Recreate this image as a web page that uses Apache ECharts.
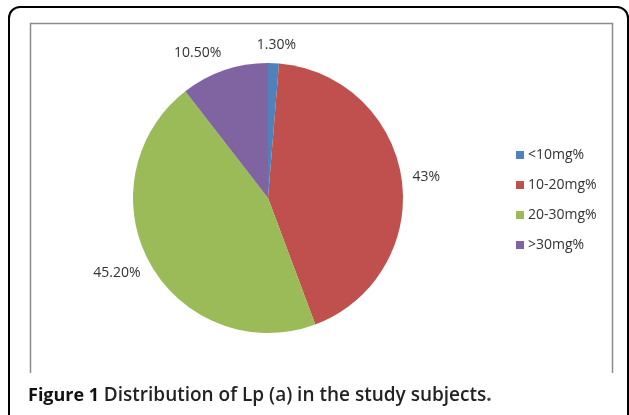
<!DOCTYPE html>
<html>
<head>
<meta charset="utf-8">
<script src="https://cdn.jsdelivr.net/npm/echarts@6/dist/echarts.min.js"></script>
<style>
  html, body { margin: 0; padding: 0; background: #fff; }
  #chart { width: 629px; height: 415px; }
</style>
</head>
<body>
<div id="chart"></div>
<script>
// Lp(a) groups and their share of subjects (%)
var categories = ['<10mg%', '10-20mg%', '20-30mg%', '>30mg%'];
var percents = [1.3, 43, 45.2, 10.5];
var pctLabels = ['1.30%', '43%', '45.20%', '10.50%'];
var sliceColors = ['#4F81BD', '#C0504D', '#9BBB59', '#8064A2'];

var pieCenter = [268, 198];
var pieRadius = 135;
var labelGap = 11;

var chart = echarts.init(document.getElementById('chart'));

var seriesData = [];
var total = 0;
for (var i = 0; i < categories.length; i++) {
    total += percents[i];
    seriesData.push({
        name: categories[i],
        value: percents[i],
        pct: pctLabels[i],
        itemStyle: { color: sliceColors[i] }
    });
}

// mid angle of each slice (start at 12 o'clock, clockwise)
function midAngle(idx) {
    var before = 0;
    for (var k = 0; k < idx; k++) before += percents[k];
    var mid = before + percents[idx] / 2;
    return Math.PI / 2 - mid / total * Math.PI * 2;
}

// excel-like "outside end" placement
function placeLabel(params) {
    var a = midAngle(params.dataIndex);
    var ux = Math.cos(a), uy = -Math.sin(a);
    var w = params.labelRect.width, h = params.labelRect.height;
    var d = pieRadius + labelGap;
    var x = pieCenter[0] + d * ux + (ux < 0 ? -1 : 1) * w / 2 * Math.min(1, Math.abs(ux) * 3);
    var y = pieCenter[1] + d * uy + h / 2 * uy;
    return { x: x, y: y, align: 'center', verticalAlign: 'middle' };
}

var option = {
    animation: false,
    textStyle: { fontFamily: '"Open Sans", sans-serif' },
    title: {
        left: 23,
        top: 381,
        text: '{a|Figure 1} {b|Distribution of Lp (a) in the study subjects}{c|.}',
        textStyle: {
            rich: {
                a: { fontSize: 18, fontWeight: 'bold', color: '#111', fontFamily: '"Open Sans", sans-serif' },
                b: { fontSize: 19, fontWeight: 600, color: '#222', fontFamily: '"Open Sans", sans-serif' },
                c: { fontSize: 19, color: '#444', fontFamily: '"Open Sans", sans-serif' }
            }
        }
    },
    graphic: [
        {
            type: 'rect',
            shape: { x: 9, y: 7, width: 619, height: 430, r: 11 },
            style: { fill: 'none', stroke: '#000', lineWidth: 2 },
            silent: true
        },
        {
            type: 'polyline',
            shape: { points: [[30.5, 373], [30.5, 23.5], [612.5, 23.5], [612.5, 373]] },
            style: { fill: 'none', stroke: '#8c8c8c', lineWidth: 1.5 },
            silent: true
        }
    ],
    legend: {
        orient: 'vertical',
        left: 511,
        top: 143,
        itemWidth: 8,
        itemHeight: 8,
        itemGap: 16,
        icon: 'rect',
        textStyle: { fontSize: 14, color: '#333', padding: [0, 0, 0, -1] },
        data: categories
    },
    series: [
        {
            name: 'Lp (a)',
            type: 'pie',
            center: pieCenter,
            radius: pieRadius,
            startAngle: 90,
            clockwise: true,
            avoidLabelOverlap: false,
            label: {
                show: true,
                position: 'outside',
                formatter: function (p) { return p.data.pct; },
                fontSize: 14,
                color: '#333'
            },
            labelLine: { show: false },
            labelLayout: placeLabel,
            itemStyle: { borderWidth: 0 },
            emphasis: { disabled: true },
            data: seriesData
        }
    ]
};

chart.setOption(option);
</script>
</body>
</html>
